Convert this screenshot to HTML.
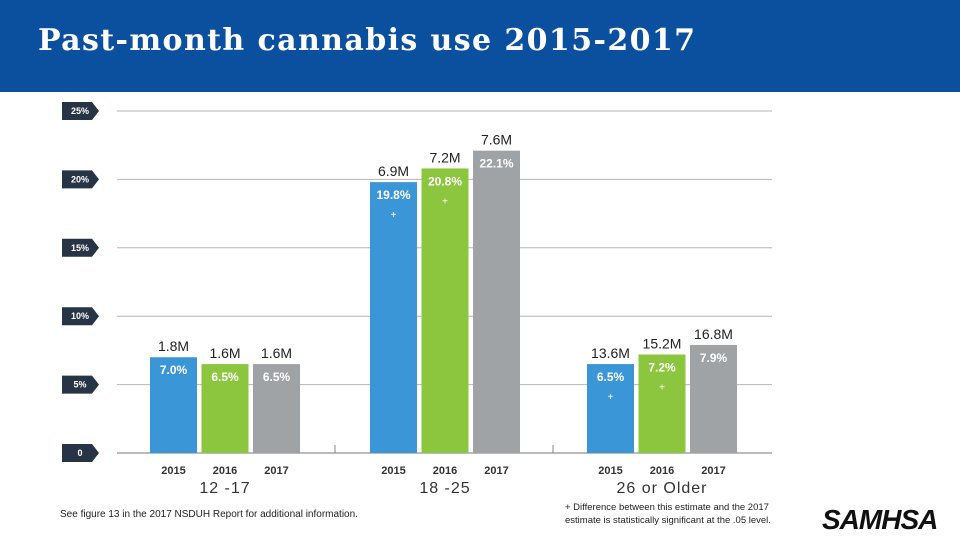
<!DOCTYPE html>
<html><head><meta charset="utf-8"><style>
body{margin:0;width:960px;height:540px;overflow:hidden;background:#fff;font-family:"Liberation Sans",sans-serif}
#hdr{position:absolute;left:0;top:0;width:960px;height:92px;background:#0b4f9f}
#title{position:absolute;left:38px;top:23px;color:#fff;font:bold 30px "DejaVu Serif",serif;letter-spacing:1.4px;white-space:nowrap}
</style></head><body>
<div id="hdr"><div id="title">Past-month cannabis use 2015-2017</div></div>
<svg id="chart" width="960" height="448" style="position:absolute;left:0;top:92px"></svg>
<script>
const groups=["12 -17","18 -25","26 or Older"];
const years=["2015","2016","2017"];
const pct=[[7.0,6.5,6.5],[19.8,20.8,22.1],[6.5,7.2,7.9]];
const millions=["1.8M","1.6M","1.6M","6.9M","7.2M","7.6M","13.6M","15.2M","16.8M"];
const sig=[[false,false,false],[true,true,false],[true,true,false]];
const ticks=[0,5,10,15,20,25];
const colors=["#3a96d6","#8cc63f","#a0a3a6"];
const svg=document.getElementById('chart');const NS="http://www.w3.org/2000/svg";
const OY=92;
function y(v){return 453-OY-v*13.68;}
function mk(t,a,txt){const e=document.createElementNS(NS,t);for(const k in a)e.setAttribute(k,a[k]);if(txt!==undefined)e.textContent=txt;svg.appendChild(e);return e;}
ticks.forEach(t=>{
 const g=mk('line',{x1:117,x2:772,y1:y(t),y2:y(t),stroke:t?"#b5b5b5":"#777","stroke-width":1});
 
 const yy=y(t);
 const tag=mk('path',{d:`M62 ${yy-9} H92 L99 ${yy} L92 ${yy+9} H62 Z`,fill:"#263445"});
 
 const tx=mk('text',{x:80,y:yy+3,"text-anchor":"middle",fill:"#fff","font-size":9,"font-weight":"bold"},t?t+"%":"0");
 
});
[335,553].forEach(x=>{const l=mk('line',{x1:x,x2:x,y1:y(0)-8,y2:y(0),stroke:"#888"});});
const gx=[150,370,587],bw=47,step=51.5;
groups.forEach((g,gi)=>{
 years.forEach((yr,i)=>{
  const v=pct[gi][i],x=gx[gi]+i*step,top=y(v);
  const r=mk('rect',{x:x,y:top,width:bw,height:y(0)-top,fill:colors[i]});
  
  const m=mk('text',{x:x+bw/2,y:top-6,"text-anchor":"middle",fill:"#222","font-size":14},millions[gi*3+i]);
  
  const p=mk('text',{x:x+bw/2,y:top+17,"text-anchor":"middle",fill:"#fff","font-size":12,"font-weight":"bold"},v.toFixed(1)+"%");
  
  if(sig[gi][i]){const s=mk('text',{x:x+bw/2,y:top+36,"text-anchor":"middle",fill:"#fff","font-size":10},"+");}
  const yl=mk('text',{x:x+bw/2,y:474-OY,"text-anchor":"middle",fill:"#333","font-size":11,"font-weight":"bold"},yr);
  
 });
 const gl=mk('text',{x:gx[gi]+step+bw/2,y:493-OY,"text-anchor":"middle",fill:"#333","font-size":16,"letter-spacing":"1"},g);
 
});
const n1=mk('text',{x:60,y:517-OY,fill:"#222","font-size":10},"See figure 13 in the 2017 NSDUH Report for additional information.");

const n2=mk('text',{x:565,y:510-OY,fill:"#222","font-size":9.5},"+ Difference between this estimate and the 2017");

const n3=mk('text',{x:565,y:523-OY,fill:"#222","font-size":9.5},"estimate is statistically significant at the .05 level.");

const lg=mk('text',{x:822,y:529-OY,fill:"#111","font-size":28,"font-weight":"bold","font-style":"italic","letter-spacing":"-1"},"SAMHSA");

</script>
</body></html>
